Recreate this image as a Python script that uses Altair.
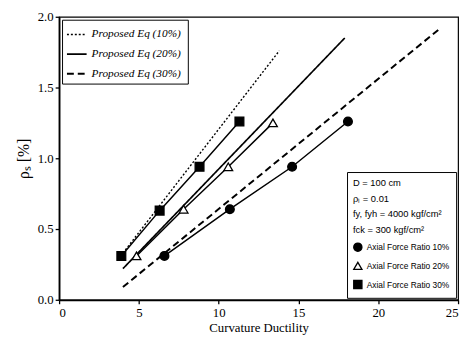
import altair as alt
import pandas as pd

# Measured series
c10_x = [6.6, 10.7, 14.6, 18.1]
c10_y = [0.31, 0.64, 0.94, 1.26]
t20_x = [4.85, 7.8, 10.6, 13.4]
t20_y = [0.31, 0.64, 0.94, 1.25]
s30_x = [3.9, 6.3, 8.8, 11.3]
s30_y = [0.31, 0.63, 0.94, 1.26]

series_names = ["Axial Force Ratio 10%", "Axial Force Ratio 20%", "Axial Force Ratio 30%"]

eq_names = ["Proposed Eq  (10%)", "Proposed Eq  (20%)", "Proposed Eq  (30%)"]
eq10_x = [4.0, 13.8]
eq10_y = [0.33, 1.76]
eq20_x = [4.0, 17.9]
eq20_y = [0.22, 1.85]
eq30_x = [4.0, 23.9]
eq30_y = [0.09, 1.92]

rows = []
for name, xs_, ys_ in zip(series_names, [c10_x, t20_x, s30_x], [c10_y, t20_y, s30_y]):
    for x, y in zip(xs_, ys_):
        rows.append({"series": name, "x": x, "y": y})
pts = pd.DataFrame(rows)

erows = []
for name, xs_, ys_ in zip(eq_names, [eq10_x, eq20_x, eq30_x], [eq10_y, eq20_y, eq30_y]):
    for x, y in zip(xs_, ys_):
        erows.append({"eq": name, "x": x, "y": y})
eqs = pd.DataFrame(erows)

xs = alt.Scale(domain=[0, 25], nice=False)
ys = alt.Scale(domain=[0, 2.0], nice=False)

xax = alt.Axis(values=[0, 5, 10, 15, 20, 25], format="d", title="Curvature Ductility",
               grid=False, tickSize=4, labelFont="Liberation Serif", labelFontSize=13,
               titleFont="Liberation Serif", titleFontSize=13, titleFontWeight="normal",
               domainColor="black", tickColor="black", labelColor="black", titleColor="black",
               domainWidth=1.8, tickWidth=1.3,
               titlePadding=2, labelPadding=3)
yax = alt.Axis(values=[0, 0.5, 1.0, 1.5, 2.0], format=".1f", title="ρₛ  [%]",
               grid=False, tickSize=4, labelFont="Liberation Serif", labelFontSize=13,
               titleFont="Liberation Serif", titleFontSize=16, titleFontWeight="normal",
               domainColor="black", tickColor="black", labelColor="black", titleColor="black",
               domainWidth=1.8, tickWidth=1.3,
               titlePadding=6, labelPadding=2)

eq_lines = alt.Chart(eqs).mark_line(color="black").encode(
    x=alt.X("x:Q", scale=xs, axis=xax),
    y=alt.Y("y:Q", scale=ys, axis=yax),
    strokeDash=alt.StrokeDash("eq:N", scale=alt.Scale(domain=eq_names, range=[[2, 2], [1, 0], [7, 4]]),
                              legend=alt.Legend(title=None, orient="top-left", offset=3,
                                                strokeColor="black", padding=4,
                                                symbolType="stroke", symbolSize=400,
                                                symbolStrokeColor="black",
                                                labelFont="Liberation Serif", labelFontStyle="italic",
                                                labelFontSize=11.5, rowPadding=3,
                                                fillColor="white")),
    strokeWidth=alt.StrokeWidth("eq:N", scale=alt.Scale(domain=eq_names, range=[1.4, 2.0, 2.4]),
                                legend=None),
    detail="eq:N",
)

data_lines = alt.Chart(pts).mark_line(color="black", strokeWidth=1.5).encode(
    x=alt.X("x:Q", scale=xs),
    y=alt.Y("y:Q", scale=ys),
    detail="series:N",
)

info_title = ["D = 100 cm", "ρₗ = 0.01", "fy, fyh = 4000 kgf/cm²", "fck = 300 kgf/cm²"]

pt_legend = alt.Legend(title=info_title, orient="bottom-right", offset=2,
                       strokeColor="black", padding=6, fillColor="white",
                       titleFont="Liberation Sans", titleFontSize=9.5,
                       titleFontWeight="normal", titleLineHeight=16,
                       titlePadding=8,
                       labelFont="Liberation Sans", labelFontSize=8.5,
                       symbolSize=70, symbolStrokeWidth=1.3, rowPadding=5)

data_pts = alt.Chart(pts).mark_point(strokeWidth=1.3, opacity=1, size=80, filled=False).encode(
    x=alt.X("x:Q", scale=xs),
    y=alt.Y("y:Q", scale=ys),
    shape=alt.Shape("series:N", scale=alt.Scale(domain=series_names,
                                                range=["circle", "triangle-up", "square"]),
                    legend=pt_legend),
    fill=alt.Fill("series:N", scale=alt.Scale(domain=series_names,
                                              range=["black", "white", "black"]),
                  legend=pt_legend),
    stroke=alt.Stroke("series:N", scale=alt.Scale(domain=series_names,
                                                  range=["black", "black", "black"]),
                      legend=pt_legend),
)

chart = alt.layer(eq_lines, data_lines, data_pts).properties(
    width=406, height=288,
    autosize=alt.AutoSizeParams(type="none"),
    padding={"left": 52, "top": 6, "right": 4, "bottom": 38},
    background="white",
).configure_view(stroke="black", strokeWidth=1.2)

chart.save("out.html", embed_options={"renderer": "svg", "actions": False})
